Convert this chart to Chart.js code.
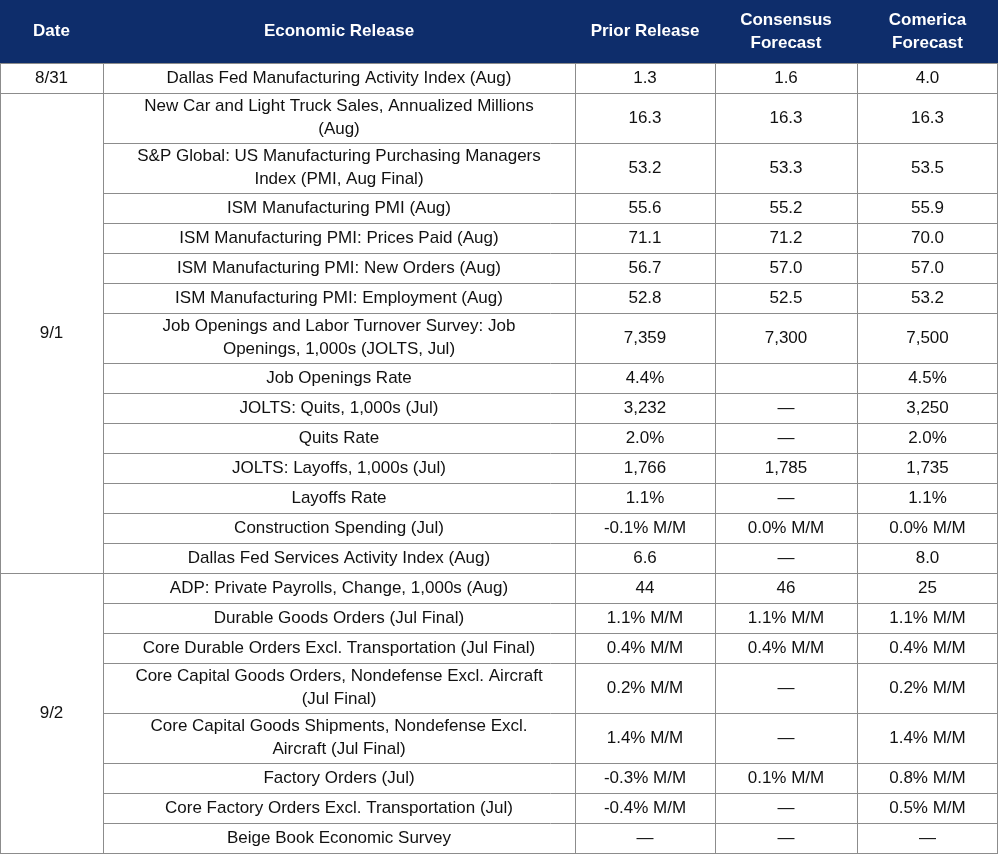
<!DOCTYPE html>
<html>
<head>
<meta charset="utf-8">
<script src="https://cdn.jsdelivr.net/npm/chart.js@4"></script>
<style>
  body { margin: 0; background: #fff; }
  canvas { display: block; }
</style>
</head>
<body>
<canvas id="tbl" width="1000" height="856"></canvas>
<script>
const headers = ['Date', 'Economic Release', 'Prior Release', 'Consensus\nForecast', 'Comerica\nForecast'];
const dateGroups = [['8/31', 0, 0], ['9/1', 1, 14], ['9/2', 15, 22]];
const releases = [
  'Dallas Fed Manufacturing Activity Index (Aug)',
  'New Car and Light Truck Sales, Annualized Millions\n(Aug)',
  'S&P Global: US Manufacturing Purchasing Managers\nIndex (PMI, Aug Final)',
  'ISM Manufacturing PMI (Aug)',
  'ISM Manufacturing PMI: Prices Paid (Aug)',
  'ISM Manufacturing PMI: New Orders (Aug)',
  'ISM Manufacturing PMI: Employment (Aug)',
  'Job Openings and Labor Turnover Survey: Job\nOpenings, 1,000s (JOLTS, Jul)',
  'Job Openings Rate',
  'JOLTS: Quits, 1,000s (Jul)',
  'Quits Rate',
  'JOLTS: Layoffs, 1,000s (Jul)',
  'Layoffs Rate',
  'Construction Spending (Jul)',
  'Dallas Fed Services Activity Index (Aug)',
  'ADP: Private Payrolls, Change, 1,000s (Aug)',
  'Durable Goods Orders (Jul Final)',
  'Core Durable Orders Excl. Transportation (Jul Final)',
  'Core Capital Goods Orders, Nondefense Excl. Aircraft\n(Jul Final)',
  'Core Capital Goods Shipments, Nondefense Excl.\nAircraft (Jul Final)',
  'Factory Orders (Jul)',
  'Core Factory Orders Excl. Transportation (Jul)',
  'Beige Book Economic Survey'
];
const prior = ['1.3','16.3','53.2','55.6','71.1','56.7','52.8','7,359','4.4%','3,232','2.0%','1,766','1.1%','-0.1% M/M','6.6','44','1.1% M/M','0.4% M/M','0.2% M/M','1.4% M/M','-0.3% M/M','-0.4% M/M','—'];
const consensus = ['1.6','16.3','53.3','55.2','71.2','57.0','52.5','7,300','','—','—','1,785','—','0.0% M/M','—','46','1.1% M/M','0.4% M/M','—','—','0.1% M/M','—','—'];
const comerica = ['4.0','16.3','53.5','55.9','70.0','57.0','53.2','7,500','4.5%','3,250','2.0%','1,735','1.1%','0.0% M/M','8.0','25','1.1% M/M','0.4% M/M','0.2% M/M','1.4% M/M','0.8% M/M','0.5% M/M','—'];

const colWidths = [103, 472, 140, 142, 141];
const headerH = 63, lineH = 30, twoLineH = 50;

const colEdges = [0];
colWidths.forEach(w => colEdges.push(colEdges[colEdges.length - 1] + w));
const rowEdges = [0, headerH];
releases.forEach(r => rowEdges.push(rowEdges[rowEdges.length - 1] + (r.includes('\n') ? twoLineH : lineH)));
const totalW = colEdges[colEdges.length - 1];
const totalH = rowEdges[rowEdges.length - 1];

const cellPoints = [];
releases.forEach((r, i) => {
  for (let c = 1; c < 5; c++) {
    cellPoints.push({x: (colEdges[c] + colEdges[c + 1]) / 2, y: (rowEdges[i + 1] + rowEdges[i + 2]) / 2,
      text: [r, prior[i], consensus[i], comerica[i]][c - 1], col: c});
  }
});
dateGroups.forEach(g => {
  cellPoints.push({x: colWidths[0] / 2, y: (rowEdges[g[1] + 1] + rowEdges[g[2] + 2]) / 2, text: g[0], col: 0});
});

const tablePlugin = {
  id: 'tablePlugin',
  afterDatasetsDraw(chart) {
    const ctx = chart.ctx, xs = chart.scales.x, ys = chart.scales.y;
    const X = v => xs.getPixelForValue(v), Y = v => ys.getPixelForValue(v);
    ctx.save();
    // header
    ctx.fillStyle = '#0e2d6b';
    ctx.fillRect(X(0), Y(0), X(totalW) - X(0), Y(headerH) - Y(0));
    ctx.font = 'bold 17px "Liberation Sans", Arial, sans-serif';
    ctx.fillStyle = '#fff';
    ctx.textAlign = 'center';
    ctx.textBaseline = 'middle';
    headers.forEach((h, c) => {
      const lines = h.split('\n');
      const cx = X((colEdges[c] + colEdges[c + 1]) / 2);
      lines.forEach((l, k) => ctx.fillText(l, cx, Y(headerH / 2) + (k - (lines.length - 1) / 2) * 23));
    });
    // grid lines
    ctx.strokeStyle = '#8c8c8c';
    ctx.lineWidth = 1;
    const groupStarts = dateGroups.map(g => g[1]);
    rowEdges.forEach((e, i) => {
      if (i === 0) return;
      const ri = i - 1;
      const isGroup = groupStarts.includes(ri) || i === rowEdges.length - 1;
      ctx.beginPath();
      ctx.moveTo(isGroup ? X(0) : X(colEdges[1]), Y(e) + 0.5);
      ctx.lineTo(X(totalW), Y(e) + 0.5);
      ctx.stroke();
    });
    colEdges.forEach(e => {
      ctx.beginPath();
      ctx.moveTo(Math.min(X(e), X(totalW) - 1) + 0.5, Y(headerH));
      ctx.lineTo(Math.min(X(e), X(totalW) - 1) + 0.5, Y(totalH));
      ctx.stroke();
    });
    // cell text
    ctx.font = '17px "Liberation Sans", Arial, sans-serif';
    ctx.fillStyle = '#111';
    chart.data.datasets[0].data.forEach(p => {
      const lines = p.text.split('\n');
      lines.forEach((l, k) => ctx.fillText(l, X(p.x), Y(p.y) + (k - (lines.length - 1) / 2) * 23));
    });
    ctx.restore();
  }
};

new Chart(document.getElementById('tbl'), {
  type: 'scatter',
  data: { datasets: [{ data: cellPoints, pointRadius: 0, pointHoverRadius: 0 }] },
  options: {
    responsive: false,
    animation: false,
    layout: { padding: 0 },
    plugins: { legend: { display: false }, tooltip: { enabled: false } },
    scales: {
      x: { type: 'linear', min: 0, max: 1000, display: false },
      y: { type: 'linear', min: 0, max: 856, reverse: true, display: false }
    }
  },
  plugins: [tablePlugin]
});
</script>
</body>
</html>
